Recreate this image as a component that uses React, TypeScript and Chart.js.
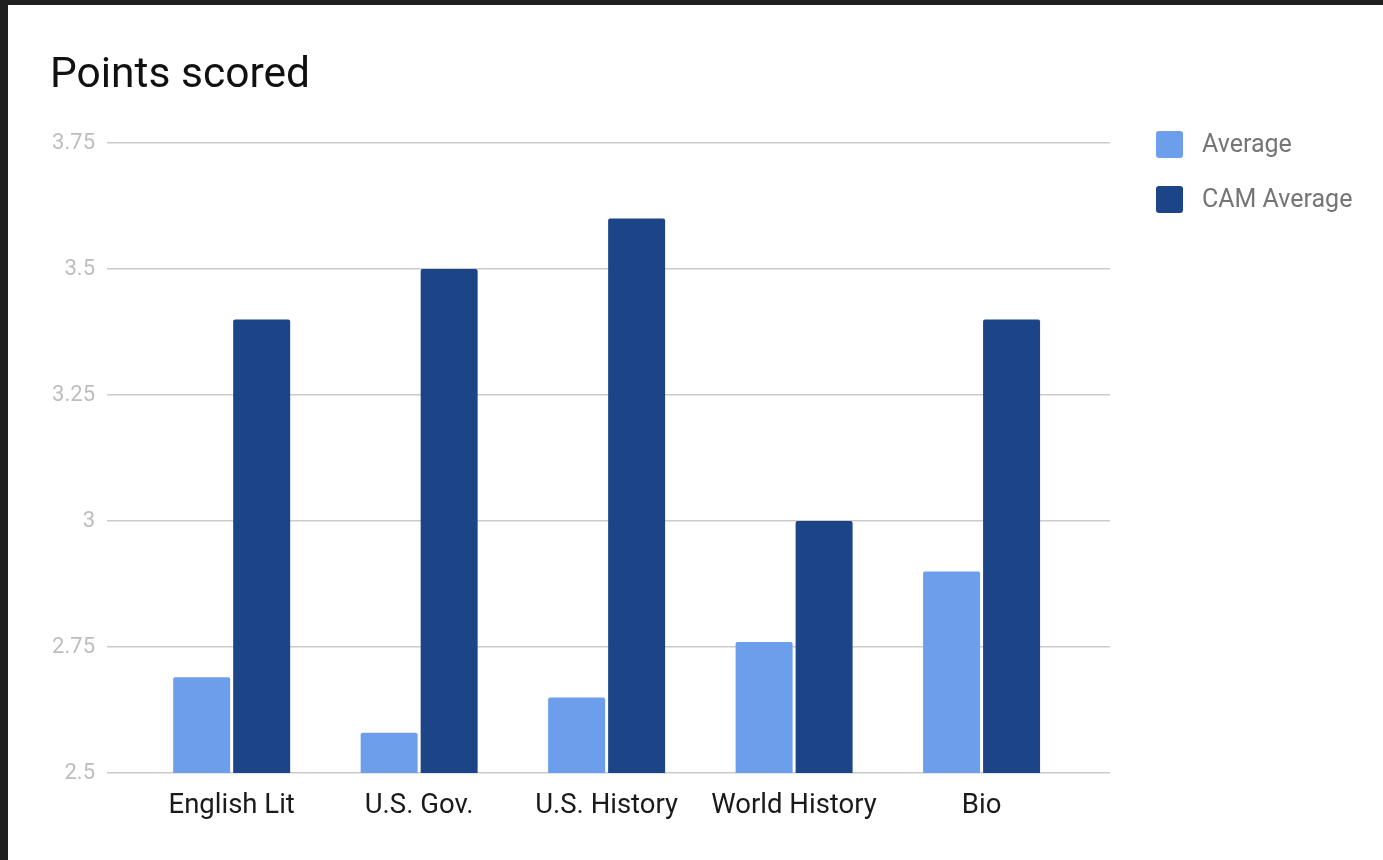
import React, { useEffect, useRef } from "react";
import { Chart, registerables } from "chart.js";

Chart.register(...registerables);

const categories = ["English Lit", "U.S. Gov.", "U.S. History", "World History", "Bio"];
const averageValues = [2.69, 2.58, 2.65, 2.76, 2.9];
const camAverageValues = [3.4, 3.5, 3.6, 3.0, 3.4];
const yTickLabels = ["2.5", "2.75", "3", "3.25", "3.5", "3.75"];
const seriesNames = ["Average", "CAM Average"];
const seriesColors = ["#6d9eeb", "#1c4587"];

const sideLegend = {
  id: "sideLegend",
  afterDraw(chart: any) {
    const { ctx, chartArea } = chart;
    const x0 = chartArea.right + 46;
    const y0 = chartArea.top - 12;
    chart.data.datasets.forEach((ds: any, i: number) => {
      const y = y0 + i * 55;
      ctx.save();
      ctx.fillStyle = ds.backgroundColor;
      ctx.beginPath();
      ctx.roundRect(x0, y, 27, 27, 3);
      ctx.fill();
      ctx.fillStyle = "#757575";
      ctx.font = "25px Roboto";
      ctx.textBaseline = "middle";
      ctx.textAlign = "left";
      ctx.fillText(ds.label, x0 + 46, y + 15);
      ctx.restore();
    });
  },
};

export default function App() {
  const ref = useRef<HTMLCanvasElement>(null);
  useEffect(() => {
    const chart = new Chart(ref.current as HTMLCanvasElement, {
      type: "bar",
      data: {
        datasets: [averageValues, camAverageValues].map((vals, s) => ({
          label: seriesNames[s],
          data: vals.map((v, i) => ({ x: i, y: v })),
          backgroundColor: seriesColors[s],
          borderRadius: 2,
          borderSkipped: "start" as const,
          categoryPercentage: 0.64,
          barPercentage: 0.95,
        })),
      },
      options: {
        animation: false,
        responsive: false,
        layout: { padding: { left: 42, right: 273, top: 0, bottom: 20 } },
        plugins: {
          legend: { display: false },
          tooltip: { enabled: false },
          title: {
            display: true,
            text: "Points scored",
            align: "start",
            color: "#111111",
            font: { family: "Roboto", size: 42.5, weight: "normal" },
            padding: { top: 46, bottom: 41 },
          },
        },
        scales: {
          x: {
            type: "linear",
            min: -0.665,
            max: 4.685,
            offset: false,
            grid: { display: false, drawTicks: false },
            border: { display: false },
            afterBuildTicks: (scale: any) => {
              scale.ticks = categories.map((_, i) => ({ value: i }));
            },
            ticks: {
              autoSkip: false,
              maxRotation: 0,
              padding: 17,
              color: "#1a1a1a",
              font: { family: "Roboto", size: 27.5 },
              callback: (v: any) => {
                const n = Math.round(Number(v));
                return categories[n] ?? "";
              },
            },
          },
          y: {
            min: 2.5,
            max: 3.75,
            afterFit: (scale: any) => {
              scale.width = 57;
            },
            grid: { color: "#cccccc", lineWidth: 1.5, drawTicks: false },
            border: { display: false },
            ticks: {
              stepSize: 0.25,
              padding: 12,
              color: "#bdbdbd",
              font: { family: "Roboto", size: 22 },
              callback: (v: any) => {
                const idx = Math.round((Number(v) - 2.5) / 0.25);
                return yTickLabels[idx] ?? "";
              },
            },
          },
        },
      },
      plugins: [sideLegend],
    });
    return () => chart.destroy();
  }, []);

  return (
    <div style={{ position: "fixed", inset: 0, background: "#202020" }}>
      <div
        style={{
          position: "absolute",
          left: 8,
          top: 5,
          width: 1375,
          height: 855,
          background: "#ffffff",
        }}
      >
        <canvas ref={ref} width={1375} height={855} style={{ display: "block" }} />
      </div>
    </div>
  );
}
